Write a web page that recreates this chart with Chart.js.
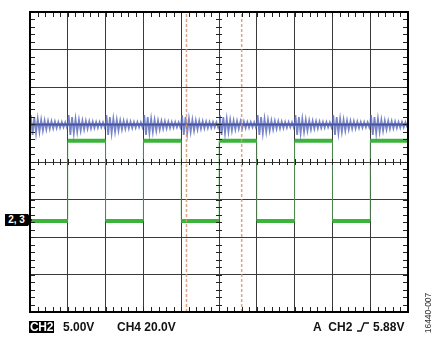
<!DOCTYPE html>
<html>
<head>
<meta charset="utf-8">
<script src="https://cdn.jsdelivr.net/npm/chart.js@4/dist/chart.umd.min.js"></script>
<style>
  html, body { margin: 0; padding: 0; background: #fff; }
  #wrap { position: relative; width: 435px; height: 339px; font-family: "Liberation Sans", Arial, sans-serif; }
  #scope { position: absolute; left: 0; top: 0; }
  .lbl { position: absolute; font-size: 12px; font-weight: bold; color: #111; line-height: 12px; white-space: nowrap; }
  .boxed { background: #000; color: #fff; padding: 0 1px; letter-spacing: -0.3px; }
  #gnd { position: absolute; left: 5px; top: 214px; height: 12px; width: 23px; background: #000; color: #fff;
         font: bold 10px "Liberation Sans", Arial, sans-serif; line-height: 12px; text-align: center; }
  #gnd:after { content: ''; position: absolute; left: 23px; top: 0; border-top: 6px solid transparent;
               border-bottom: 6px solid transparent; border-left: 4px solid #000; }
  #figid { position: absolute; left: 400px; top: 308px; width: 56px; font-size: 8.5px; line-height: 10px; color: #333;
           transform: rotate(-90deg); transform-origin: center; text-align: center; }
</style>
</head>
<body>
<div id="wrap">
  <canvas id="scope" width="435" height="339"></canvas>
  <div id="gnd">2, 3</div>
  <div class="lbl boxed" style="left:29px; top:321px;">CH2</div>
  <div class="lbl" style="left:63px; top:321px;">5.00V</div>
  <div class="lbl" style="left:117px; top:321px;">CH4 20.0V</div>
  <div class="lbl" style="left:313px; top:321px;">A&nbsp; CH2 <svg width="14" height="11" style="vertical-align:-1px"><path d="M1 10 H5 L8 2 H13" fill="none" stroke="#111" stroke-width="1.3"/></svg> 5.88V</div>
  <div id="figid">16440-007</div>
</div>
<script>
(function() {
'use strict';

// --- values (divisions: x 0..10, y 0..8 from bottom) ---
const edgeTimes = [0, 1, 2, 3, 4, 5, 6, 7, 8, 9, 10];   // CH2 switches on every division line
const greenLevels = [2.43, 4.57];                     // CH2 low / high
const greenStartsHigh = false;
const blueLevel = 5.0;                                // CH4 switch node average
const ringUp = [0.25, 0.20, 0.16, 0.13, 0.11, 0.10, 0.09, 0.08, 0.07, 0.07, 0.06];
const ringDown = [-0.28, -0.24, -0.20, -0.17, -0.14, -0.12, -0.11, -0.10, -0.09, -0.08, -0.08];
const cursorTimes = [4.14, 5.60];

// --- build datasets ---
const greenFlat = [];
const greenEdges = [];
let high = greenStartsHigh;
for (let i = 0; i < edgeTimes.length - 1; i++) {
  const lvl = greenLevels[high ? 1 : 0];
  greenFlat.push({ x: edgeTimes[i], y: lvl }, { x: edgeTimes[i + 1], y: lvl }, { x: edgeTimes[i + 1], y: null });
  if (i > 0) {
    greenEdges.push({ x: edgeTimes[i], y: greenLevels[0] }, { x: edgeTimes[i], y: greenLevels[1] }, { x: edgeTimes[i], y: null });
  }
  high = !high;
}

const blueRing = [];
for (let i = 0; i < edgeTimes.length - 1; i++) {
  const t0 = edgeTimes[i];
  const span = edgeTimes[i + 1] - t0;
  const n = ringUp.length;
  blueRing.push({ x: t0, y: blueLevel });
  for (let k = 0; k < n; k++) {
    blueRing.push({ x: t0 + span * (k + 0.25) / n, y: blueLevel + ringUp[k] });
    blueRing.push({ x: t0 + span * (k + 0.75) / n, y: blueLevel + ringDown[k] });
  }
}
const blueBase = [{ x: 0, y: blueLevel }, { x: 10, y: blueLevel }];

const cursorSets = cursorTimes.map(t => ({
  data: [{ x: t, y: 0 }, { x: t, y: 8 }],
  borderColor: 'rgba(214, 150, 110, 0.85)',
  borderWidth: 1.5,
  borderDash: [3, 2],
  pointRadius: 0,
}));

// minor ticks + frame
const scopeFrame = {
  id: 'scopeFrame',
  afterDatasetsDraw(chart) {
    const { ctx, chartArea: a, scales: { x, y } } = chart;
    ctx.save();
    ctx.strokeStyle = '#222';
    ctx.lineWidth = 1;
    ctx.beginPath();
    const cx = x.getPixelForValue(5), cy = y.getPixelForValue(4);
    for (let v = 0.2; v < 10; v += 0.2) {
      const px = Math.round(x.getPixelForValue(v)) + 0.5;
      ctx.moveTo(px, a.top); ctx.lineTo(px, a.top + 5);
      ctx.moveTo(px, a.bottom); ctx.lineTo(px, a.bottom - 5);
      ctx.moveTo(px, cy - 3); ctx.lineTo(px, cy + 3);
    }
    for (let v = 0.2; v < 8; v += 0.2) {
      const py = Math.round(y.getPixelForValue(v)) + 0.5;
      ctx.moveTo(a.left, py); ctx.lineTo(a.left + 5, py);
      ctx.moveTo(a.right, py); ctx.lineTo(a.right - 5, py);
      ctx.moveTo(cx - 3, py); ctx.lineTo(cx + 3, py);
    }
    ctx.stroke();
    ctx.lineWidth = 2;
    ctx.strokeStyle = '#000';
    ctx.strokeRect(a.left, a.top, a.right - a.left, a.bottom - a.top);
    ctx.restore();
  }
};

new Chart(document.getElementById('scope'), {
  type: 'line',
  data: {
    datasets: [
      ...cursorSets,
      { data: blueRing, borderColor: 'rgba(85, 100, 185, 0.8)', borderWidth: 1.7, pointRadius: 0 },
      { data: blueBase, borderColor: '#1c2560', borderWidth: 2, pointRadius: 0 },
      { data: greenEdges, borderColor: 'rgba(90, 190, 90, 0.65)', borderWidth: 1, pointRadius: 0, spanGaps: false },
      { data: greenFlat, borderColor: '#3cb43c', borderWidth: 4, pointRadius: 0, spanGaps: false },
    ]
  },
  options: {
    responsive: false,
    animation: false,
    layout: { padding: { left: 30, top: 12, right: 27, bottom: 27 } },
    plugins: { legend: { display: false }, tooltip: { enabled: false } },
    elements: { line: { tension: 0, borderCapStyle: 'butt' } },
    scales: {
      x: {
        type: 'linear', min: 0, max: 10,
        ticks: { display: false, stepSize: 1 },
        grid: { color: '#3a3a3a', lineWidth: 1, drawTicks: false },
        border: { display: false }
      },
      y: {
        type: 'linear', min: 0, max: 8,
        ticks: { display: false, stepSize: 1 },
        grid: { color: '#3a3a3a', lineWidth: 1, drawTicks: false },
        border: { display: false }
      }
    }
  },
  plugins: [scopeFrame]
});

})();
</script>
</body>
</html>
